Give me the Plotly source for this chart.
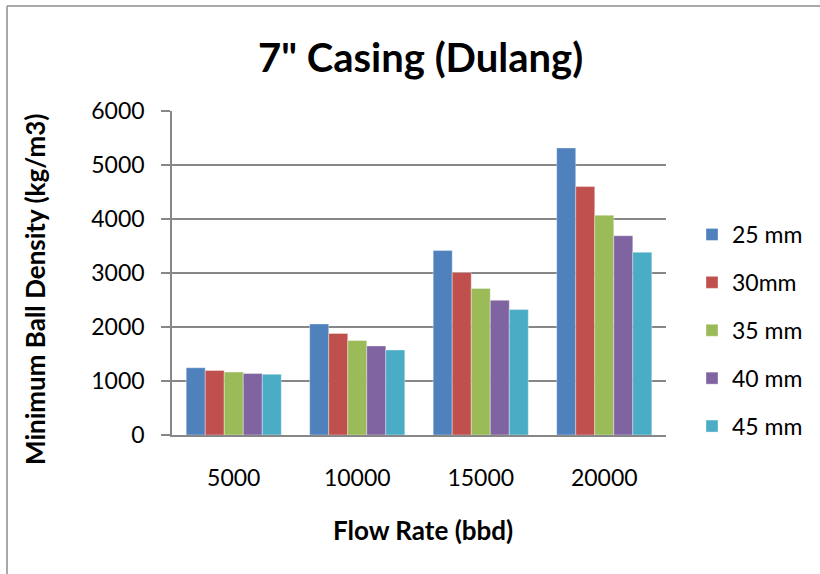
import plotly.graph_objects as go

# Flow rates (bbd) and minimum ball density (kg/m3) per ball size
flow_rates = ["5000", "10000", "15000", "20000"]
ball_sizes = ["25 mm", "30mm", "35 mm", "40 mm", "45 mm"]
density_25mm = [1245, 2055, 3415, 5315]
density_30mm = [1195, 1880, 3010, 4600]
density_35mm = [1165, 1750, 2715, 4070]
density_40mm = [1140, 1650, 2495, 3690]
density_45mm = [1125, 1575, 2325, 3385]
y_ticks = [0, 1000, 2000, 3000, 4000, 5000, 6000]

series = [density_25mm, density_30mm, density_35mm, density_40mm, density_45mm]
colors = ["#4F81BD", "#C0504D", "#9BBB59", "#8064A2", "#4BACC6"]

FONT = "Lato"
GRID = "#878787"

fig = go.Figure()
for name, vals, col in zip(ball_sizes, series, colors):
    fig.add_trace(go.Bar(
        x=flow_rates, y=vals, name=name, legendgroup=name,
        marker=dict(color=col, line=dict(color="rgba(255,255,255,0.6)", width=0.6)),
    ))

W, H = 820, 574
L, R, T, B = 172, 154, 111, 139
pw, ph = W - L - R, H - T - B


def px_x(p):
    return (p - L) / pw


def px_y(p):
    return (H - B - p) / ph


fig.update_layout(
    width=W, height=H,
    margin=dict(l=L, r=R, t=T, b=B),
    paper_bgcolor="white", plot_bgcolor="white",
    barmode="group", bargap=0.23, bargroupgap=0,
    font=dict(family=FONT, color="black"),
    showlegend=True,
    legend=dict(
        x=px_x(692), y=px_y(213), xanchor="left", yanchor="top",
        font=dict(size=23, family=FONT), tracegroupgap=15,
        traceorder="grouped", bgcolor="rgba(0,0,0,0)",
    ),
    xaxis=dict(
        showline=True, linecolor=GRID, linewidth=1.5,
        ticks="", tickfont=dict(size=23, family=FONT),
        ticklabelstandoff=22, showgrid=False,
    ),
    yaxis=dict(
        range=[0, 6000], tickvals=y_ticks,
        showline=True, linecolor=GRID, linewidth=1.5,
        ticks="outside", ticklen=9, tickcolor=GRID, tickwidth=1.5,
        showgrid=True, gridcolor=GRID, gridwidth=1.5,
        tickfont=dict(size=23, family=FONT), zeroline=False,
        ticklabelstandoff=12,
    ),
    annotations=[
        dict(text="<b>7\" Casing (Dulang)</b>", x=px_x(420), y=px_y(57),
             xref="paper", yref="paper", showarrow=False,
             font=dict(size=40, family=FONT), xanchor="center", yanchor="middle"),
        dict(text="<b>Flow Rate (bbd)</b>", x=px_x(423), y=px_y(530),
             xref="paper", yref="paper", showarrow=False,
             font=dict(size=26, family=FONT), xanchor="center", yanchor="middle"),
        dict(text="<b>Minimum Ball Density (kg/m3)</b>", x=px_x(35), y=px_y(290),
             xref="paper", yref="paper", showarrow=False, textangle=-90,
             font=dict(size=26, family=FONT), xanchor="center", yanchor="middle"),
    ],
    shapes=[
        dict(type="line", xref="paper", yref="paper",
             x0=px_x(7), x1=px_x(7), y0=px_y(6), y1=px_y(580),
             line=dict(color="#8C8C8C", width=1.5)),
        dict(type="line", xref="paper", yref="paper",
             x0=px_x(7), x1=px_x(830), y0=px_y(6), y1=px_y(6),
             line=dict(color="#8C8C8C", width=1.5)),
    ],
)

fig.write_html("out.html")
